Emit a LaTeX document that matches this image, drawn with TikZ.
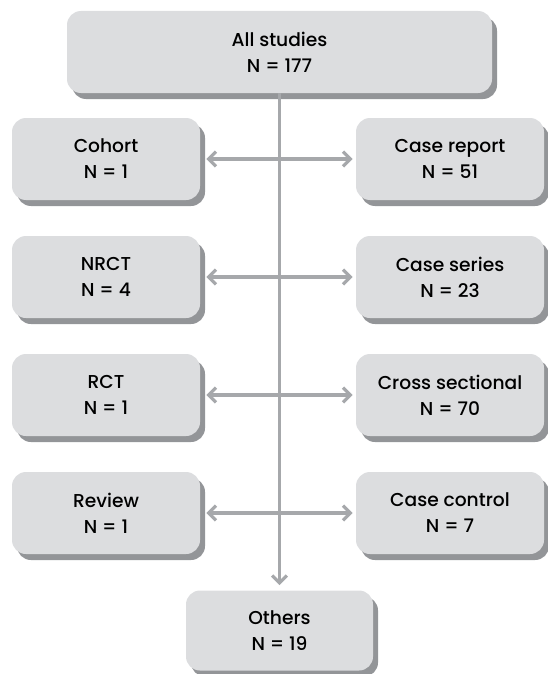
\documentclass[tikz,border=0pt]{standalone}
\usepackage{fontspec}
\setmainfont{Poppins Medium}
\usetikzlibrary{arrows.meta,shadows}
\definecolor{boxfill}{HTML}{DCDDDF}
\definecolor{boxshadow}{HTML}{939598}
\definecolor{linegray}{HTML}{A6A8AB}
\tikzset{
  box/.style={fill=boxfill, rounded corners=10.5pt, align=center,
    font=\fontsize{14}{19.5}\selectfont, text=black, inner sep=0pt,
    drop shadow={shadow xshift=3.75pt, shadow yshift=-4.5pt, fill=boxshadow, opacity=1}},
  sidebox/.style={box, minimum width=141pt, minimum height=61.5pt},
  conn/.style={draw=linegray, line width=2.5pt},
  barb/.tip={Straight Barb[length=5.5pt, width=11pt]}
}
\begin{document}
\begin{tikzpicture}[x=0.75pt, y=-0.75pt]
\useasboundingbox (0,0) rectangle (548,674);
\node[box, minimum width=318.75pt, minimum height=61.5pt] (all) at (279.5,52) {All studies\\N = 177};
\node[sidebox] (l1) at (106,159) {Cohort\\N = 1};
\node[sidebox] (l2) at (106,277) {NRCT\\N = 4};
\node[sidebox] (l3) at (106,395) {RCT\\N = 1};
\node[sidebox] (l4) at (106,513) {Review\\N = 1};
\node[sidebox] (r1) at (450,159) {Case report\\N = 51};
\node[sidebox] (r2) at (450,277) {Case series\\N = 23};
\node[sidebox] (r3) at (450,395) {Cross sectional\\N = 70};
\node[sidebox] (r4) at (450,513) {Case control\\N = 7};
\node[box, minimum width=140.25pt, minimum height=60pt] (oth) at (279.5,630.5) {Others\\N = 19};
\draw[conn, -barb, shorten >=3.75pt] (all.south) -- (oth.north);
\foreach \i in {1,...,4}{
  \draw[conn, barb-barb, shorten <=4.5pt, shorten >=2.25pt] (l\i.east) -- (r\i.west);
}
\end{tikzpicture}
\end{document}
